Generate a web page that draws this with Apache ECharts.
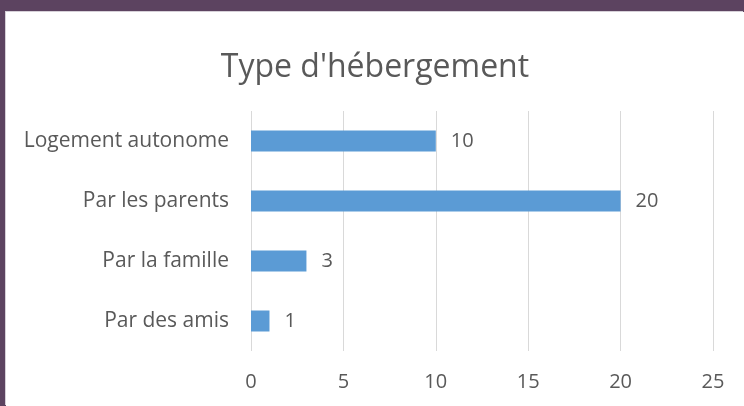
<!DOCTYPE html>
<html>
<head>
<meta charset="utf-8">
<script src="https://cdn.jsdelivr.net/npm/echarts@6/dist/echarts.min.js"></script>
<style>
    html, body {
        margin: 0;
        padding: 0;
        width: 744px;
        height: 406px;
        background: #5c4360;
        overflow: hidden;
    }
    .com-container {
        position: absolute;
        left: 6px;
        top: 12px;
        width: 738px;
        height: 394px;
        background: #fff;
        box-shadow: -1px -1px 0 #d6d0d8;
    }
    .com-chart {
        width: 100%;
        height: 100%;
    }
</style>
</head>
<body>
<div class="com-container">
    <div class="com-chart" id="chart_ref"></div>
</div>
<script>
const categories = ['Logement autonome', 'Par les parents', 'Par la famille', 'Par des amis']
const values = [10, 20, 3, 1]
const xTicks = [0, 5, 10, 15, 20, 25]

const chartInstance = echarts.init(document.getElementById('chart_ref'))
const textColor = '#595959'
const fontName = '"Open Sans", sans-serif'

const option = {
    animation: false,
    title: {
        text: "Type d'hébergement",
        left: 'center',
        top: 35,
        textStyle: {
            fontFamily: fontName,
            fontSize: 32,
            fontWeight: 'normal',
            color: textColor
        }
    },
    grid: {
        left: 245,
        right: 31,
        top: 99,
        bottom: 55,
        containLabel: false
    },
    xAxis: {
        type: 'value',
        min: xTicks[0],
        max: xTicks[xTicks.length - 1],
        interval: 5,
        axisLine: { show: false },
        axisTick: { show: false },
        splitLine: { lineStyle: { color: '#d9d9d9', width: 1 } },
        axisLabel: {
            margin: 21,
            fontFamily: fontName,
            fontSize: 20,
            color: textColor
        }
    },
    yAxis: {
        type: 'category',
        inverse: true,
        data: categories,
        axisLine: { show: false },
        axisTick: { show: false },
        axisLabel: {
            margin: 22,
            fontFamily: fontName,
            fontSize: 21,
            color: textColor
        }
    },
    series: [
        {
            type: 'bar',
            data: values,
            barWidth: 21,
            itemStyle: { color: '#5b9bd5' },
            label: {
                show: true,
                position: 'right',
                distance: 15,
                fontFamily: fontName,
                fontSize: 20,
                color: textColor
            }
        }
    ]
}
chartInstance.setOption(option)
</script>
</body>
</html>
